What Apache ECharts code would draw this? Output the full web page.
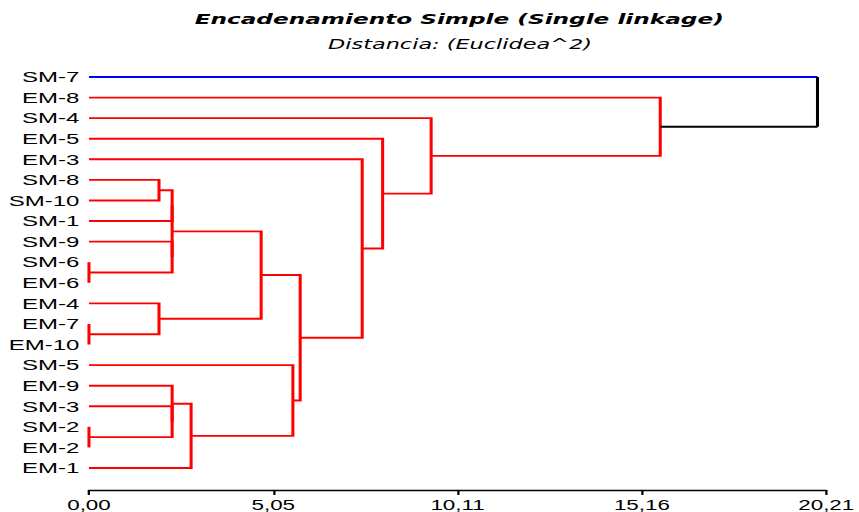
<!DOCTYPE html>
<html>
<head>
<meta charset="utf-8">
<script src="https://cdn.jsdelivr.net/npm/echarts@6/dist/echarts.min.js"></script>
<style>
  html, body { margin: 0; padding: 0; background: #fff; overflow: hidden; }
  /* the source picture is stretched sideways, so draw narrow and widen */
  #chart { width: 536.875px; height: 512px; transform: scaleX(1.6); transform-origin: 0 0; }
</style>
</head>
<body>
<div id="chart"></div>
<script>
// leaves, top to bottom
const leaves = ['SM-7', 'EM-8', 'SM-4', 'EM-5', 'EM-3', 'SM-8', 'SM-10', 'SM-1', 'SM-9', 'SM-6',
  'EM-6', 'EM-4', 'EM-7', 'EM-10', 'SM-5', 'EM-9', 'SM-3', 'SM-2', 'EM-2', 'EM-1'];

// merge steps: a string is a leaf, a number is an earlier merge step
const mergeLeft = ['SM-6', 'EM-7', 'SM-2', 'SM-8', 'EM-4', 3, 'SM-9', 5, 'SM-3', 'EM-9', 9, 7, 'SM-5', 11, 'EM-3', 'EM-5', 'SM-4', 'EM-8', 'SM-7'];
const mergeRight = ['EM-6', 'EM-10', 'EM-2', 'SM-10', 1, 'SM-1', 0, 6, 2, 8, 'EM-1', 4, 10, 12, 13, 14, 15, 16, 17];
const mergeDist = [0, 0, 0, 1.92, 1.92, 2.28, 2.28, 2.28, 2.28, 2.28, 2.80, 4.72, 5.59, 5.79, 7.49, 8.05, 9.38, 15.66, 19.97];

const tickLabels = ['0,00', '5,05', '10,11', '15,16', '20,21'];
const axisMax = 20.21;
const cutHeight = 17;
const clusterColors = ['#0000ff', '#ff0000'];
const aboveCutColor = '#000000';

// node positions
const nodes = [];
function info(ref) {
  if (typeof ref === 'string') {
    const idx = leaves.indexOf(ref);
    return { x: 0, y: idx, top: idx };
  }
  return nodes[ref];
}
mergeDist.forEach((d, i) => {
  const a = info(mergeLeft[i]);
  const b = info(mergeRight[i]);
  nodes[i] = { x: d, y: (a.y + b.y) / 2, top: Math.min(a.top, b.top) };
});

// cluster colours
const nodeColor = {};
function paint(ref, color) {
  nodeColor[ref] = color;
  if (typeof ref === 'number') {
    paint(mergeLeft[ref], color);
    paint(mergeRight[ref], color);
  }
}
const roots = [];
mergeDist.forEach((d, i) => {
  if (d <= cutHeight) return;
  [mergeLeft[i], mergeRight[i]].forEach((c) => {
    if (typeof c === 'string' || mergeDist[c] <= cutHeight) roots.push(c);
  });
});
roots.sort((p, q) => info(p).top - info(q).top);
roots.forEach((r, k) => paint(r, clusterColors[k % clusterColors.length]));

function linkColor(child, parentIdx) {
  if (mergeDist[parentIdx] <= cutHeight) return nodeColor[parentIdx];
  return typeof child === 'string' ? nodeColor[child] : aboveCutColor;
}

const segData = [];
const segColors = [];
mergeDist.forEach((d, i) => {
  const a = info(mergeLeft[i]);
  const b = info(mergeRight[i]);
  segData.push([d, a.y, b.y, a.x, b.x]);
  segColors.push({
    a: linkColor(mergeLeft[i], i),
    v: mergeDist[i] <= cutHeight ? nodeColor[i] : aboveCutColor,
    b: linkColor(mergeRight[i], i),
  });
});

const chart = echarts.init(document.getElementById('chart'), null, { renderer: 'svg' });

function poly(points, color) {
  return {
    type: 'polyline',
    shape: { points: points },
    style: { stroke: color, lineWidth: 1.9, fill: null, lineJoin: 'miter' },
  };
}

function renderItem(params, api) {
  const c = segColors[params.dataIndex];
  const d = api.value(0);
  const pA0 = api.coord([api.value(3), api.value(1)]);
  const pA1 = api.coord([d, api.value(1)]);
  const pB1 = api.coord([d, api.value(2)]);
  const pB0 = api.coord([api.value(4), api.value(2)]);
  const children = [];
  if (c.a === c.v && c.v === c.b) {
    children.push(poly([pA0, pA1, pB1, pB0], c.v));
  } else {
    children.push(poly([pA0, pA1], c.a));
    children.push(poly([pA1, pB1], c.v));
    children.push(poly([pB1, pB0], c.b));
  }
  return { type: 'group', children: children };
}

chart.setOption({
  animation: false,
  backgroundColor: '#fff',
  graphic: [
    {
      type: 'text', x: 287, y: 19,
      style: {
        text: 'Encadenamiento Simple (Single linkage)',
        font: 'italic bold 14.5px "DejaVu Sans"',
        fill: '#000', align: 'center', verticalAlign: 'middle',
        textAlign: 'center', textVerticalAlign: 'middle',
      },
    },
    {
      type: 'text', x: 287.5, y: 44,
      style: {
        text: 'Distancia: (Euclidea^2)',
        font: 'italic 14px "DejaVu Sans"',
        fill: '#000', align: 'center', verticalAlign: 'middle',
        textAlign: 'center', textVerticalAlign: 'middle',
      },
    },
  ],
  grid: {
    left: 55.6,
    right: 20.6,
    top: 77,
    bottom: 44,
    containLabel: false,
    outerBoundsMode: 'none',
  },
  xAxis: {
    type: 'value',
    position: 'bottom',
    min: 0,
    max: axisMax,
    interval: axisMax / 4,
    offset: 22,
    axisLine: { show: true, onZero: false, lineStyle: { color: '#000', width: 1.4 } },
    axisTick: { show: true, length: 5, lineStyle: { color: '#000', width: 1.4 } },
    splitLine: { show: false },
    axisLabel: {
      formatter: (v, i) => tickLabels[i],
      color: '#000',
      fontFamily: 'Liberation Sans',
      fontSize: 14,
      margin: 8,
    },
  },
  yAxis: {
    type: 'value',
    min: 0,
    max: leaves.length - 1,
    interval: 1,
    inverse: true,
    axisLine: { show: false, onZero: false },
    axisTick: { show: false },
    splitLine: { show: false },
    axisLabel: {
      formatter: (v) => leaves[v],
      color: '#000',
      fontFamily: 'Liberation Sans',
      fontSize: 15,
      margin: 6,
    },
  },
  series: [
    {
      type: 'custom',
      renderItem: renderItem,
      data: segData,
      encode: { x: [0, 3, 4], y: [1, 2] },
      clip: false,
    },
  ],
});
</script>
</body>
</html>
